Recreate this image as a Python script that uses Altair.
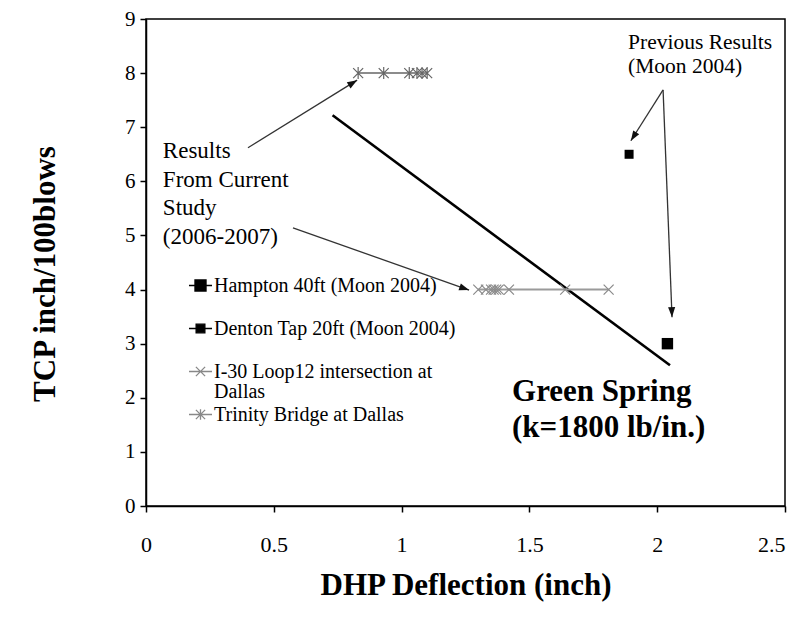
import math
import altair as alt
import pandas as pd

FONT = "Liberation Serif"

# ---------------- data ----------------
series_names = [
    "Hampton 40ft (Moon 2004)",
    "Denton Tap 20ft (Moon 2004)",
    "I-30 Loop12 intersection at Dallas",
    "Trinity Bridge at Dallas",
]

hampton_x = [2.04]
hampton_y = [3.0]
denton_x = [1.89]
denton_y = [6.5]
i30_x = [1.30, 1.33, 1.35, 1.36, 1.37, 1.38, 1.42, 1.64, 1.81]
i30_y = [4, 4, 4, 4, 4, 4, 4, 4, 4]
trinity_x = [0.83, 0.93, 1.03, 1.06, 1.08, 1.10]
trinity_y = [8, 8, 8, 8, 8, 8]

spring_x = [0.73, 2.05]
spring_y = [7.22, 2.60]

arrow_x1 = [0.399, 0.575, 2.023, 2.023]
arrow_y1 = [6.62, 5.14, 7.69, 7.69]
arrow_x2 = [0.826, 1.264, 1.897, 2.058]
arrow_y2 = [7.87, 3.99, 6.75, 3.49]

note1_text = ["Results\nFrom Current\nStudy\n(2006-2007)"]
note1_x = [0.066]
note1_y = [6.755]
note2_text = ["Previous Results\n(Moon 2004)"]
note2_x = [1.886]
note2_y = [8.76]

spring_label = ["Green Spring\n(k=1800 lb/in.)"]
spring_label_x = [1.432]
spring_label_y = [2.384]

x_ticks = [0, 0.5, 1, 1.5, 2, 2.5]
y_ticks = [0, 1, 2, 3, 4, 5, 6, 7, 8, 9]

# ---------------- layout ----------------
W, H = 639, 487
X_MAX, Y_MAX = 2.5, 9
KX, KY = W / X_MAX, H / Y_MAX

xs = alt.Scale(domain=[0, X_MAX], nice=False, zero=False)
ys = alt.Scale(domain=[0, Y_MAX], nice=False, zero=False)

X_PATH = "M-1,-1L1,1M-1,1L1,-1"
STAR_PATH = "M-1,-1L1,1M-1,1L1,-1M0,-1.2V1.2"
HEAD_PATH = "M0,0L-0.75,2.1L0.75,2.1Z"

LEG_H = "M-1,0H1M-0.48,-0.48H0.48V0.48H-0.48Z"
LEG_D = "M-1,0H1M-0.38,-0.38H0.38V0.38H-0.38Z"
LEG_X = "M-1,0H1M-0.4,-0.4L0.4,0.4M-0.4,0.4L0.4,-0.4"
LEG_S = "M-1,0H1M-0.4,-0.4L0.4,0.4M-0.4,0.4L0.4,-0.4M0,-0.45V0.45"

X = lambda: alt.X("x:Q", scale=xs, axis=alt.Axis(
    values=x_ticks, format="~g", title="DHP Deflection (inch)", labelFlush=False,
    labelAlign={"condition": {"test": "datum.value >= 2.5", "value": "right"}, "value": "center"},
    labelFont=FONT, labelFontSize=22, labelColor="black", labelPadding=22,
    tickSize=6, tickColor="black", tickWidth=1.5,
    domainColor="black", domainWidth=1.5, grid=False,
    titleFont=FONT, titleFontSize=31, titleFontWeight="bold", titleColor="black",
    titleX=W / 2, titleY=79, titleBaseline="middle", titleAlign="center"))
Y = lambda: alt.Y("y:Q", scale=ys, axis=alt.Axis(
    values=y_ticks, format="~g", title="TCP inch/100blows", labelFlush=False,
    labelFont=FONT, labelFontSize=21, labelColor="black", labelPadding=5,
    tickSize=6, tickColor="black", tickWidth=1.5,
    domainColor="black", domainWidth=1.5, grid=False,
    titleFont=FONT, titleFontSize=31, titleFontWeight="bold", titleColor="black",
    titleX=-101, titleY=H / 2 + 11, titleAngle=-90, titleBaseline="middle", titleAlign="center"))

def df(xv, yv):
    return pd.DataFrame({"x": xv, "y": yv})

spring = alt.Chart(df(spring_x, spring_y)).mark_line(color="black", strokeWidth=2.6).encode(x=X(), y=Y())
i30_line = alt.Chart(df(i30_x, i30_y)).mark_line(color="#9a9a9a", strokeWidth=2).encode(x="x:Q", y="y:Q")
tr_line = alt.Chart(df(trinity_x, trinity_y)).mark_line(color="#666", strokeWidth=1.5).encode(x="x:Q", y="y:Q")
i30_pts = alt.Chart(df(i30_x, i30_y)).mark_point(shape=X_PATH, size=100, color="#8a8a8a", strokeWidth=1.2,
                                                 filled=False, opacity=1).encode(x="x:Q", y="y:Q")
tr_pts = alt.Chart(df(trinity_x, trinity_y)).mark_point(shape=STAR_PATH, size=100, color="#666", strokeWidth=1.2,
                                                        filled=False, opacity=1).encode(x="x:Q", y="y:Q")
ham = alt.Chart(df(hampton_x, hampton_y)).mark_point(shape="square", size=130, filled=True, color="black",
                                                     opacity=1).encode(x="x:Q", y="y:Q")
den = alt.Chart(df(denton_x, denton_y)).mark_point(shape="square", size=81, filled=True, color="black",
                                                   opacity=1).encode(x="x:Q", y="y:Q")

arrows = pd.DataFrame({"x": arrow_x1, "y": arrow_y1, "x2": arrow_x2, "y2": arrow_y2})
arrows["angle"] = [
    (math.degrees(math.atan2((b2 - b1) * KX, (c2 - c1) * KY)) + 360) % 360
    for b1, c1, b2, c2 in zip(arrow_x1, arrow_y1, arrow_x2, arrow_y2)
]
shafts = alt.Chart(arrows).mark_rule(color="#333", strokeWidth=1.3).encode(
    x="x:Q", y="y:Q", x2="x2:Q", y2="y2:Q")
heads = alt.Chart(arrows).mark_point(shape=HEAD_PATH, size=90, filled=True, color="#111", opacity=1).encode(
    x="x2:Q", y="y2:Q", angle=alt.Angle("angle:Q", scale=None))

note1 = alt.Chart(pd.DataFrame({"x": note1_x, "y": note1_y, "t": note1_text})).mark_text(
    align="left", baseline="top", font=FONT, fontSize=23, lineHeight=28.5, lineBreak="\n", color="black"
).encode(x="x:Q", y="y:Q", text="t:N")
note2 = alt.Chart(pd.DataFrame({"x": note2_x, "y": note2_y, "t": note2_text})).mark_text(
    align="left", baseline="top", font=FONT, fontSize=21.5, lineHeight=24.5, lineBreak="\n", color="black"
).encode(x="x:Q", y="y:Q", text="t:N")

spring_txt = alt.Chart(pd.DataFrame({"x": spring_label_x, "y": spring_label_y, "t": spring_label})).mark_text(
    align="left", baseline="top", font=FONT, fontSize=31, fontWeight="bold", lineHeight=36, lineBreak="\n",
    color="black"
).encode(x="x:Q", y="y:Q", text="t:N")

leg = alt.Legend(
    title=None, orient="none", legendX=42, legendY=254, padding=0,
    labelFont=FONT, labelFontSize=20, labelColor="black", labelLimit=400, labelOffset=1,
    symbolSize=530, rowPadding=0, symbolStrokeWidth=1.3,
    labelExpr="datum.label == 'I-30 Loop12 intersection at Dallas' ? ['I-30 Loop12 intersection at', 'Dallas'] : [datum.label, ' ']",
)
legend_layer = alt.Chart(pd.DataFrame({"series": series_names, "x": [0, 0, 0, 0], "y": [0, 0, 0, 0]})).mark_point(
    filled=False, opacity=1, strokeWidth=1.3
).encode(
    x="x:Q", y="y:Q",
    shape=alt.Shape("series:N", scale=alt.Scale(domain=series_names, range=[LEG_H, LEG_D, LEG_X, LEG_S]), legend=leg),
    fill=alt.Fill("series:N", scale=alt.Scale(domain=series_names, range=["black", "black", "transparent", "transparent"]), legend=leg),
    stroke=alt.Stroke("series:N", scale=alt.Scale(domain=series_names, range=["black", "black", "#888", "#888"]), legend=leg),
).transform_filter("false")

chart = alt.layer(
    spring, i30_line, tr_line, i30_pts, tr_pts, ham, den, shafts, heads, note1, note2, spring_txt, legend_layer
).properties(
    width=W, height=H,
    autosize=alt.AutoSizeParams(type="none"),
    padding={"left": 138, "top": 11, "right": 9, "bottom": 103},
).configure(
    background="white", style={"guide-label": {"lineHeight": 20}}
).configure_view(
    stroke="black", strokeWidth=1.5
)

chart.save("out.html", embed_options={"renderer": "svg", "actions": False})
